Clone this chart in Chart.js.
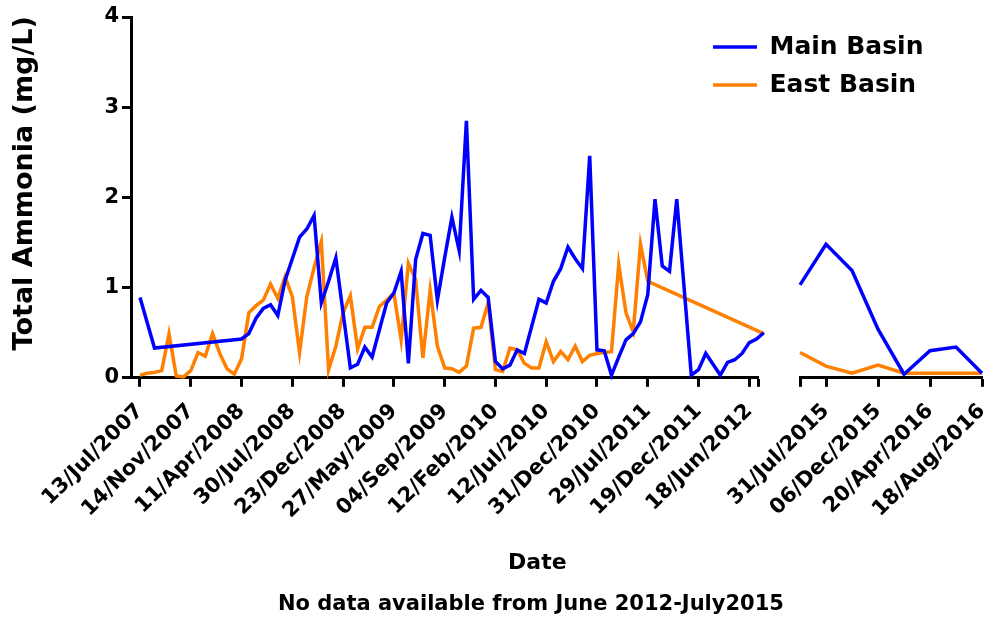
<!DOCTYPE html>
<html>
<head>
<meta charset="utf-8">
<title>Total Ammonia - Main and East Basin</title>
<script src="https://cdn.jsdelivr.net/npm/chart.js@4.4.1/dist/chart.umd.min.js"></script>
<style>
  html, body { margin: 0; padding: 0; background: #fff; }
  #wrap { position: relative; width: 990px; height: 618px; }
</style>
</head>
<body>
<div id="wrap"><canvas id="ammonia-chart"></canvas></div>
<script>
/* ============================================
   Data (one value per sampling row, mg/L)
   ============================================ */
// Jul 2007 - Jun 2012 (87 rows)
const mainLeft = [
  0.89, null, 0.33, null, null, null, null, null, null, null, null, null, null, null,
  0.43, 0.49, 0.66, 0.77, 0.81, 0.69, 1.08,
  1.32, 1.56, 1.65, 1.80, 0.83, 1.07, 1.33,
  0.72, 0.11, 0.15, 0.34, 0.23, 0.53, 0.83,
  0.94, 1.18, 0.16, 1.31, 1.60, 1.58, 0.86,
  1.33, 1.78, 1.41, 2.85, 0.87, 0.97, 0.89,
  0.18, 0.10, 0.14, 0.31, 0.27, 0.57, 0.87,
  0.83, 1.07, 1.21, 1.45, 1.32, 1.21, 2.46,
  0.31, 0.30, 0.03, 0.23, 0.42, 0.49, 0.62,
  0.92, 1.98, 1.24, 1.18, 1.98, 1.01, 0.03,
  0.09, 0.27, 0.15, 0.03, 0.17, 0.20, 0.27,
  0.39, 0.43, 0.50
];
const eastLeft = [
  0.03, 0.05, 0.06, 0.08, 0.49, 0.02, 0.01,
  0.08, 0.28, 0.24, 0.49, 0.27, 0.10, 0.04,
  0.21, 0.72, 0.80, 0.86, 1.04, 0.88, 1.12,
  0.90, 0.28, 0.90, 1.22, 1.51, 0.09, 0.35,
  0.72, 0.91, 0.32, 0.56, 0.56, 0.79, 0.86,
  0.94, 0.42, 1.27, 1.09, 0.22, 0.97, 0.35,
  0.11, 0.10, 0.06, 0.13, 0.55, 0.56, 0.83,
  0.09, 0.07, 0.33, 0.31, 0.16, 0.11, 0.11,
  0.40, 0.18, 0.29, 0.20, 0.35, 0.18, 0.25,
  0.27, 0.28, 0.29, 1.26, 0.72, 0.51, 1.48,
  1.07, null, null, null, null, null, null,
  null, null, null, null, null, null, null,
  null, null, 0.49
];
// Jul 2015 - Sep 2016 (8 rows)
const mainRight = [1.03, 1.48, 1.19, 0.54, 0.04, 0.30, 0.34, 0.05];
const eastRight = [0.28, 0.13, 0.05, 0.14, 0.05, 0.05, 0.05, 0.05];

// tick rows and their date labels
const leftTickRows = [0, 7, 14, 21, 28, 35, 42, 49, 56, 63, 70, 77, 84];
const leftTickLabels = ['13/Jul/2007', '14/Nov/2007', '11/Apr/2008', '30/Jul/2008', '23/Dec/2008',
  '27/May/2009', '04/Sep/2009', '12/Feb/2010', '12/Jul/2010', '31/Dec/2010',
  '29/Jul/2011', '19/Dec/2011', '18/Jun/2012'];
const rightTickRows = [1, 3, 5, 7];
const rightTickLabels = ['31/Jul/2015', '06/Dec/2015', '20/Apr/2016', '18/Aug/2016'];

const yTicks = [0, 1, 2, 3, 4];

/* ============================================
   Chart setup
   ============================================ */
const BLUE = '#0000ff';
const ORANGE = '#ff8000';

Chart.defaults.font.family = "'DejaVu Sans', sans-serif";
Chart.defaults.font.weight = 'bold';
Chart.defaults.font.size = 21;
Chart.defaults.color = '#000';

const toPoints = arr => arr.map((v, i) => ({ x: i, y: v }));

function lineSet(label, values, color, axis) {
  return {
    label,
    data: toPoints(values),
    xAxisID: axis,
    yAxisID: 'y',
    borderColor: color,
    backgroundColor: color,
    borderWidth: 3.5,
    borderJoinStyle: 'miter',
    pointRadius: 0,
    pointHoverRadius: 0,
    tension: 0,
    spanGaps: true,
    clip: false
  };
}

const axisLine = { display: true, color: '#000', width: 3 };
const tickMarks = { display: true, drawOnChartArea: false, drawTicks: true, tickLength: 9, tickWidth: 3, color: '#000' };
const X_AXIS_HEIGHT = 167;

// one segment of the broken date axis
function dateAxis(rows, labels, min, max, breakAt, weight) {
  const tickValues = breakAt === min ? [breakAt, ...rows] : [...rows, breakAt];
  return {
    type: 'linear',
    position: 'bottom',
    stack: 'date',
    stackWeight: weight,
    min, max,
    bounds: 'data',
    border: axisLine,
    grid: tickMarks,
    ticks: {
      autoSkip: false,
      minRotation: 45,
      maxRotation: 45,
      padding: 12,
      callback: v => {
        const k = rows.indexOf(v);
        return k >= 0 ? labels[k] : '';
      }
    },
    afterBuildTicks: s => { s.ticks = tickValues.map(v => ({ value: v })); },
    afterFit: s => { s.height = X_AXIS_HEIGHT; s.paddingRight = 0; }
  };
}

// pulls the legend out of the layout and puts it in the top right of the plot
const legendInPlot = {
  id: 'legendInPlot',
  beforeLayout(chart) {
    const lg = chart.legend;
    if (lg && !lg._zeroFit) {
      const fit = lg.fit;
      lg.fit = function () { fit.call(this); this.width = 0; };
      lg._zeroFit = true;
    }
  },
  afterLayout(chart) {
    const lg = chart.legend;
    if (!lg) return;
    lg.left = 700;
    lg.right = 990;
    lg.top = 21.5;
  }
};

new Chart(document.getElementById('ammonia-chart'), {
  type: 'line',
  data: {
    datasets: [
      lineSet('Main Basin', mainLeft, BLUE, 'xL'),
      lineSet('East Basin', eastLeft, ORANGE, 'xL'),
      lineSet('Main Basin', mainRight, BLUE, 'xR'),
      lineSet('East Basin', eastRight, ORANGE, 'xR')
    ]
  },
  options: {
    responsive: true,
    maintainAspectRatio: false,
    devicePixelRatio: 1,
    animation: false,
    events: [],
    layout: { padding: { left: 0, right: 8, top: 17, bottom: 0 } },
    scales: {
      y: {
        type: 'linear',
        position: 'left',
        min: 0,
        max: 4,
        border: axisLine,
        grid: tickMarks,
        ticks: { padding: 3 },
        afterBuildTicks: s => { s.ticks = yTicks.map(v => ({ value: v })); },
        title: {
          display: true,
          text: '   Total Ammonia (mg/L)',
          font: { size: 27 },
          padding: { top: 9, bottom: 0 }
        },
        afterFit: s => { s.width = 131; }
      },
      xL: dateAxis(leftTickRows, leftTickLabels, -1.24, 85.2, 85.2, 627),
      xGap: {
        type: 'linear',
        position: 'bottom',
        stack: 'date',
        stackWeight: 42,
        border: { display: false },
        grid: { display: false },
        ticks: { display: false },
        afterFit: s => { s.height = X_AXIS_HEIGHT; s.paddingLeft = 0; s.paddingRight = 0; }
      },
      xR: dateAxis(rightTickRows, rightTickLabels, 0, 7, 0, 182)
    },
    plugins: {
      legend: {
        position: 'right',
        align: 'start',
        labels: {
          boxWidth: 44,
          boxHeight: 0,
          padding: 13,
          font: { size: 25 },
          filter: item => item.datasetIndex < 2
        }
      },
      title: {
        display: true,
        text: 'Date     ',
        position: 'bottom',
        fullSize: false,
        weight: 1000,
        font: { size: 22 },
        padding: { top: 5, bottom: 15.6 }
      },
      subtitle: {
        display: true,
        text: 'No data available from June 2012-July2015       ',
        position: 'bottom',
        fullSize: false,
        weight: 2000,
        color: '#000',
        font: { size: 21, weight: 'bold' },
        padding: { top: 0, bottom: 1 }
      },
      tooltip: { enabled: false }
    }
  },
  plugins: [legendInPlot]
});
</script>
</body>
</html>
